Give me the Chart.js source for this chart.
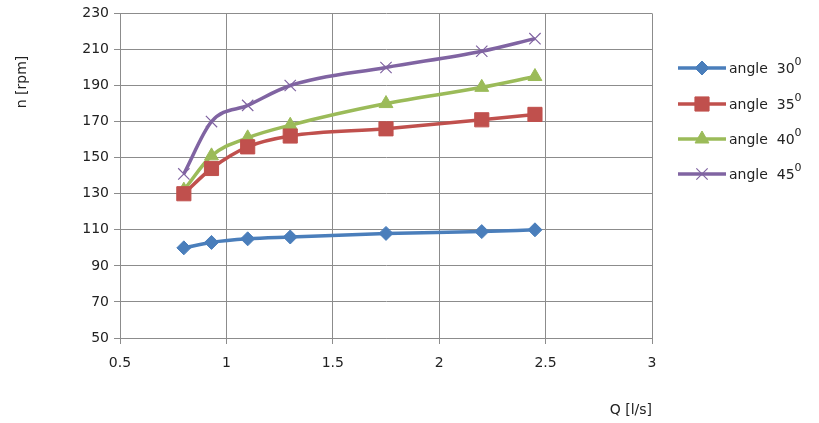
<!DOCTYPE html>
<html>
<head>
<meta charset="utf-8">
<script src="https://cdn.jsdelivr.net/npm/chart.js@4/dist/chart.umd.min.js"></script>
<style>
  html, body { margin: 0; padding: 0; background: #fff; }
  #wrap { width: 819px; height: 423px; }
</style>
</head>
<body>
<div id="wrap"><canvas id="chartRpm"></canvas></div>
<script>
const flow = [0.8, 0.93, 1.1, 1.3, 1.75, 2.2, 2.45];
const angle30 = [100, 103, 105, 106, 108, 109, 110];
const angle35 = [130, 144, 156, 162, 166, 171, 174];
const angle40 = [132, 151, 161, 168, 180, 189, 195];
const angle45 = [141, 170, 179, 190, 200, 209, 216];
const seriesNames = ['angle  30', 'angle  35', 'angle  40', 'angle  45'];
const xTicks = [0.5, 1, 1.5, 2, 2.5, 3];
const yTicks = [50, 70, 90, 110, 130, 150, 170, 190, 210, 230];

const FONT = 'DejaVu Sans';
const gridColor = '#8c8c8c';

const toPoints = (vals) => vals.map((v, i) => ({ x: flow[i], y: v }));

const styles = [
  { color: '#4a7ebb', point: 'rectRot', radius: 7 },
  { color: '#c0504d', point: 'rect', radius: 10 },
  { color: '#9bbb59', point: 'triangle', radius: 8 },
  { color: '#8064a2', point: 'crossRot', radius: 8 }
];
const allSeries = [angle30, angle35, angle40, angle45];

const datasets = allSeries.map((vals, i) => ({
  label: seriesNames[i],
  data: toPoints(vals),
  borderColor: styles[i].color,
  backgroundColor: styles[i].color,
  pointBackgroundColor: styles[i].color,
  pointBorderColor: styles[i].color,
  pointStyle: styles[i].point,
  pointRadius: styles[i].radius,
  pointBorderWidth: styles[i].point === 'crossRot' ? 1.2 : 1,
  borderWidth: 3.5,
  tension: 0.3,
  cubicInterpolationMode: 'monotone',
  fill: false
}));

// legend with line + marker and superscript degree, plus y title
const extras = {
  id: 'extras',
  afterDraw(chart) {
    const ctx = chart.ctx;
    ctx.save();
    const ys = [68, 104, 139, 174];
    datasets.forEach((ds, i) => {
      const y = ys[i];
      ctx.strokeStyle = ds.borderColor;
      ctx.lineWidth = 3.5;
      ctx.beginPath();
      ctx.moveTo(678, y);
      ctx.lineTo(726, y);
      ctx.stroke();
      ctx.fillStyle = ds.borderColor;
      ctx.strokeStyle = ds.borderColor;
      ctx.lineWidth = ds.pointBorderWidth;
      Chart.helpers.drawPoint(ctx, { pointStyle: ds.pointStyle, radius: ds.pointRadius, rotation: 0, borderWidth: ds.pointBorderWidth }, 702, y);
      ctx.fillStyle = '#222';
      ctx.font = '14px "' + FONT + '"';
      ctx.textBaseline = 'middle';
      ctx.textAlign = 'left';
      ctx.fillText(ds.label, 729, y + 1);
      const w = ctx.measureText(ds.label).width;
      ctx.font = '11px "' + FONT + '"';
      ctx.fillText('0', 729 + w, y - 6);
    });
    ctx.translate(22, 82);
    ctx.rotate(-Math.PI / 2);
    ctx.font = '14px "' + FONT + '"';
    ctx.textAlign = 'center';
    ctx.textBaseline = 'middle';
    ctx.fillStyle = '#222';
    ctx.fillText('n [rpm]', 0, 0);
    ctx.restore();
  }
};

new Chart(document.getElementById('chartRpm').getContext('2d'), {
  type: 'line',
  data: { datasets },
  plugins: [extras],
  options: {
    responsive: true,
    maintainAspectRatio: false,
    animation: false,
    layout: { padding: { top: 10, right: 167, left: 0, bottom: 0 } },
    plugins: {
      legend: { display: false },
      tooltip: { enabled: false }
    },
    scales: {
      x: {
        type: 'linear',
        min: xTicks[0],
        max: xTicks[xTicks.length - 1],
        afterBuildTicks: (s) => { s.ticks = xTicks.map(v => ({ value: v })); },
        afterFit: (s) => { s.height = 85; },
        ticks: {
          color: '#222',
          font: { family: FONT, size: 14 },
          padding: 11,
          callback: (v) => String(v)
        },
        grid: { color: gridColor, tickLength: 6, lineWidth: 1 },
        border: { color: gridColor, width: 1 },
        title: {
          display: true,
          text: 'Q [l/s]',
          align: 'end',
          color: '#222',
          font: { family: FONT, size: 14 },
          padding: { top: 16 }
        }
      },
      y: {
        min: yTicks[0],
        max: yTicks[yTicks.length - 1],
        afterBuildTicks: (s) => { s.ticks = yTicks.map(v => ({ value: v })); },
        afterFit: (s) => { s.width = 120; },
        ticks: {
          color: '#222',
          font: { family: FONT, size: 14 },
          padding: 5
        },
        grid: { color: gridColor, tickLength: 6, lineWidth: 1 },
        border: { color: gridColor, width: 1 }
      }
    }
  }
});
</script>
</body>
</html>
